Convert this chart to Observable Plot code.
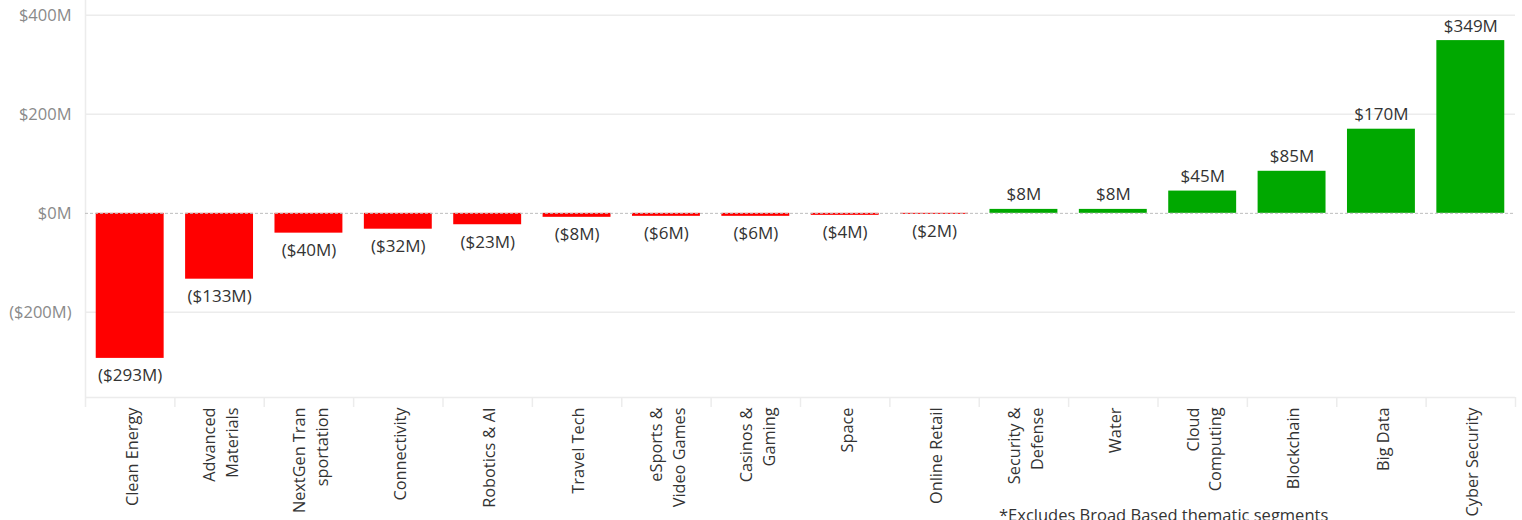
<!DOCTYPE html>
<html>
<head>
<meta charset="utf-8">
<script src="https://cdn.jsdelivr.net/npm/d3@7"></script>
<script src="https://cdn.jsdelivr.net/npm/@observablehq/plot@0.6"></script>
<style>
  html, body { margin: 0; padding: 0; background: #fff; overflow: hidden; }
  #wrap { position: relative; width: 1522px; height: 520px; overflow: hidden; }
  #caption { position: absolute; left: 999px; top: 503px; font: 16.5px "Open Sans", sans-serif; color: #333; white-space: nowrap; }
</style>
</head>
<body>
<div id="wrap">
  <div id="chart"></div>
  <div id="caption">*Excludes Broad Based thematic segments</div>
</div>
<script>
const categories = [
  "Clean Energy", "Advanced\nMaterials", "NextGen Tran\nsportation", "Connectivity",
  "Robotics & AI", "Travel Tech", "eSports &\nVideo Games", "Casinos &\nGaming",
  "Space", "Online Retail", "Security &\nDefense", "Water",
  "Cloud\nComputing", "Blockchain", "Big Data", "Cyber Security"
];
const values = [-293, -133, -40, -32, -23, -8, -6, -6, -4, -2, 8, 8, 45, 85, 170, 349];
const yTicks = [-200, 0, 200, 400];

const data = categories.map((c, i) => ({category: c, value: values[i]}));
const fmt = v => v < 0 ? `($${-v}M)` : `$${v}M`;

const W = 1522, H = 520, mL = 85, mR = 7, mT = 0, mB = 123;
const step = (W - mL - mR) / categories.length;
const yMin = -372, yMax = 430;
const sepBottom = yMin - 10 * (yMax - yMin) / (H - mT - mB);

const chart = Plot.plot({
  width: W, height: H,
  marginLeft: mL, marginRight: mR, marginTop: mT, marginBottom: mB,
  style: {fontFamily: "'Open Sans', sans-serif", background: "#fff"},
  x: {domain: categories, paddingInner: 0.24, paddingOuter: 0.12, round: false},
  y: {domain: [yMin, yMax]},
  marks: [
    Plot.ruleY(yTicks.filter(d => d !== 0), {stroke: "#ececec", strokeWidth: 1.5}),
    Plot.ruleY([yMin], {stroke: "#ececec", strokeWidth: 1.5}),
    Plot.ruleX([categories[0]], {dx: -step / 2, y1: sepBottom, y2: yMax, stroke: "#ececec", strokeWidth: 1.5, clip: false}),
    Plot.ruleX(categories.slice(1), {dx: -step / 2, y1: sepBottom, y2: yMin, stroke: "#ececec", strokeWidth: 1.5, clip: false}),
    Plot.ruleX([categories[categories.length - 1]], {dx: step / 2, y1: sepBottom, y2: yMin, stroke: "#ececec", strokeWidth: 1.5, clip: false}),
    Plot.barY(data, {x: "category", y: "value", fill: d => d.value < 0 ? "#ff0000" : "#00a800"}),
    Plot.ruleY([0], {stroke: "#bdbdbd", strokeDasharray: "3,2", strokeWidth: 1}),
    Plot.text(data.filter(d => d.value >= 0), {x: "category", y: "value", text: d => fmt(d.value), lineAnchor: "bottom", dy: -9, fontSize: 17, fill: "#333"}),
    Plot.text(data.filter(d => d.value < 0), {x: "category", y: "value", text: d => fmt(d.value), lineAnchor: "top", dy: 11, fontSize: 17, fill: "#333"}),
    Plot.axisY({ticks: yTicks, tickFormat: fmt, tickSize: 0, tickPadding: 14, fontSize: 16.5, color: "#8a8a8a", label: null}),
    Plot.axisX({tickSize: 0, tickPadding: 10, tickRotate: -90, fontSize: 16.3, color: "#333", label: null, lineHeight: 1.4})
  ]
});
document.getElementById("chart").appendChild(chart);
</script>
</body>
</html>
